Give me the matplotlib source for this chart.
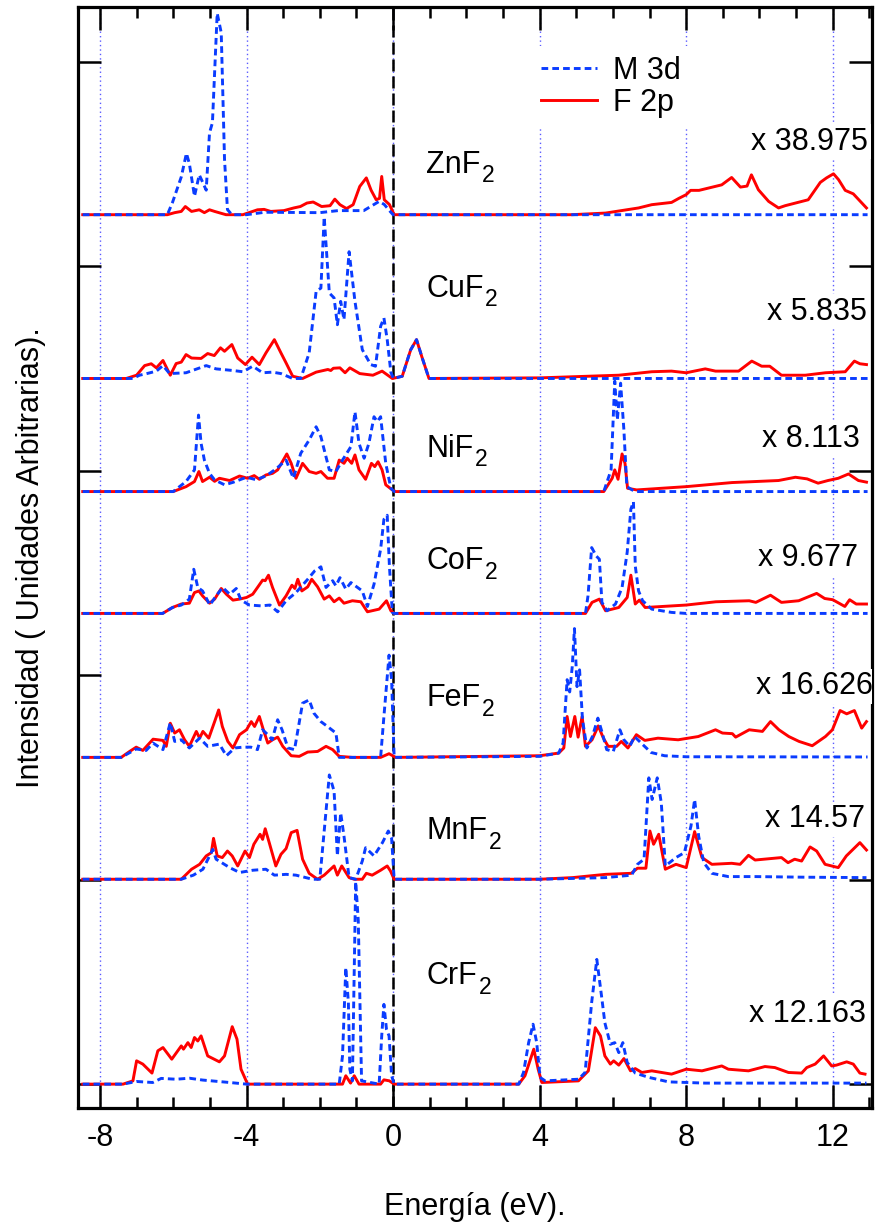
import numpy as np
import matplotlib.pyplot as plt

plt.rcParams['font.family'] = ['Liberation Sans', 'DejaVu Sans']
plt.rcParams['axes.unicode_minus'] = False


# ----------- #
# -- DATOS -- #
# ----------- #

compuestos = ['ZnF2', 'CuF2', 'NiF2', 'CoF2', 'FeF2', 'MnF2', 'CrF2']
factores = ['x 38.975', 'x 5.835', 'x 8.113', 'x 9.677', 'x 16.626', 'x 14.57', 'x 12.163']

# (energia eV, intensidad) por compuesto, M 3d y F 2p
zn_3d = [(-8.47, 0), (-6.16, 0), (-6.02, 0.06), (-5.78, 0.185), (-5.64, 0.30), (-5.56, 0.25),
         (-5.42, 0.09), (-5.29, 0.195), (-5.2, 0.16), (-5.1, 0.12), (-5.01, 0.40), (-4.93, 0.45),
         (-4.8, 0.985), (-4.69, 0.89), (-4.6, 0.27), (-4.52, 0.025), (-4.4, 0), (-4.0, 0),
         (-3.5, 0.012), (-2.0, 0.01), (-1.5, 0.02), (-0.8, 0.02), (-0.38, 0.065), (-0.24, 0.05),
         (-0.1, 0.02), (0.0, 0), (12.95, 0)]
zn_2p = [(-8.47, 0), (-6.16, 0), (-5.96, 0.01), (-5.78, 0.016), (-5.67, 0.04), (-5.5, 0.016),
         (-5.29, 0.024), (-5.15, 0.01), (-5.01, 0.024), (-4.87, 0.016), (-4.56, 0), (-4.1, 0),
         (-3.7, 0.024), (-3.52, 0.026), (-3.34, 0.016), (-2.98, 0.02), (-2.71, 0.033), (-2.53, 0.04),
         (-2.35, 0.057), (-2.18, 0.062), (-1.95, 0.04), (-1.72, 0.044), (-1.59, 0.076), (-1.45, 0.049),
         (-1.27, 0.03), (-1.09, 0.049), (-0.91, 0.138), (-0.73, 0.18), (-0.6, 0.12), (-0.46, 0.073),
         (-0.37, 0.08), (-0.31, 0.187), (-0.24, 0.073), (-0.1, 0.05), (0.03, 0), (4.88, 0),
         (5.8, 0.008), (6.7, 0.033), (7.06, 0.049), (7.6, 0.06), (7.8, 0.08), (8.0, 0.098),
         (8.12, 0.119), (8.35, 0.119), (8.97, 0.146), (9.24, 0.182), (9.48, 0.135), (9.66, 0.14),
         (9.78, 0.195), (9.97, 0.122), (10.25, 0.065), (10.52, 0.033), (10.7, 0.044), (11.33, 0.073),
         (11.66, 0.158), (11.83, 0.18), (12.02, 0.2), (12.16, 0.171), (12.34, 0.119), (12.56, 0.102),
         (12.92, 0.033)]

cu_3d = [(-8.47, 0), (-7.1, 0), (-6.92, 0.016), (-6.74, 0.023), (-6.46, 0.036), (-6.28, 0.063),
         (-6.1, 0.024), (-5.65, 0.028), (-5.1, 0.063), (-4.83, 0.047), (-4.37, 0.039), (-4.1, 0.033),
         (-3.83, 0.06), (-3.56, 0.028), (-3.29, 0.031), (-3.06, 0.024), (-2.74, 0), (-2.52, 0),
         (-2.29, 0.125), (-2.1, 0.426), (-1.97, 0.442), (-1.88, 0.79), (-1.74, 0.418), (-1.61, 0.394),
         (-1.52, 0.263), (-1.43, 0.377), (-1.34, 0.288), (-1.2, 0.62), (-1.04, 0.377), (-0.84, 0.141),
         (-0.61, 0.068), (-0.48, 0.06), (-0.34, 0.255), (-0.25, 0.296), (-0.16, 0.19), (-0.06, 0.03),
         (0.01, 0), (0.25, 0.011), (0.48, 0.14), (0.64, 0.19), (0.78, 0.109), (0.98, 0), (12.95, 0)]
cu_2p = [(-8.47, 0), (-7.28, 0), (-7.0, 0.016), (-6.78, 0.063), (-6.6, 0.072), (-6.46, 0.052),
         (-6.28, 0.088), (-6.08, 0.016), (-5.92, 0.073), (-5.78, 0.08), (-5.65, 0.117), (-5.5, 0.1),
         (-5.24, 0.098), (-5.06, 0.122), (-4.88, 0.112), (-4.71, 0.15), (-4.6, 0.133), (-4.4, 0.166),
         (-4.24, 0.1), (-4.03, 0.068), (-3.85, 0.104), (-3.65, 0.068), (-3.47, 0.125), (-3.24, 0.19),
         (-3.06, 0.125), (-2.92, 0.076), (-2.74, 0.011), (-2.47, 0), (-2.1, 0.031), (-1.78, 0.044),
         (-1.7, 0.039), (-1.63, 0.05), (-1.45, 0.052), (-1.31, 0.028), (-1.18, 0.052), (-0.91, 0.024),
         (-0.55, 0.016), (-0.3, 0.036), (-0.02, 0), (0.25, 0.011), (0.48, 0.14), (0.64, 0.19),
         (0.78, 0.109), (0.98, 0), (4.0, 0.003), (6.16, 0.016), (7.06, 0.033), (7.6, 0.036),
         (8.0, 0.028), (8.52, 0.047), (8.8, 0.036), (9.43, 0.036), (9.79, 0.085), (10.06, 0.06),
         (10.28, 0.06), (10.6, 0.016), (11.25, 0.016), (11.8, 0.028), (12.34, 0.033), (12.59, 0.085),
         (12.74, 0.072), (12.92, 0.068)]

ni_3d = [(-8.47, 0), (-6.0, 0), (-5.65, 0.049), (-5.42, 0.106), (-5.31, 0.374), (-5.24, 0.236),
         (-5.15, 0.154), (-5.01, 0.089), (-4.87, 0.057), (-4.6, 0.033), (-4.37, 0.045), (-4.0, 0.07),
         (-3.74, 0.058), (-3.47, 0.076), (-3.2, 0.11), (-2.92, 0.154), (-2.72, 0.065), (-2.52, 0.187),
         (-2.29, 0.252), (-2.1, 0.317), (-1.97, 0.268), (-1.74, 0.106), (-1.56, 0.098), (-1.38, 0.154),
         (-1.15, 0.22), (-1.04, 0.39), (-0.93, 0.236), (-0.79, 0.163), (-0.66, 0.236), (-0.52, 0.366),
         (-0.43, 0.342), (-0.34, 0.366), (-0.2, 0.138), (-0.06, 0.016), (0.03, 0), (5.75, 0),
         (5.95, 0.106), (6.05, 0.54), (6.12, 0.35), (6.21, 0.53), (6.3, 0.3), (6.38, 0.024),
         (6.6, 0), (12.95, 0)]
ni_2p = [(-8.47, 0), (-6.0, 0), (-5.65, 0.024), (-5.42, 0.049), (-5.3, 0.098), (-5.2, 0.049),
         (-5.01, 0.07), (-4.87, 0.05), (-4.74, 0.065), (-4.46, 0.054), (-4.19, 0.076), (-3.97, 0.065),
         (-3.79, 0.078), (-3.65, 0.06), (-3.47, 0.081), (-3.29, 0.089), (-3.15, 0.106), (-2.9, 0.184),
         (-2.78, 0.138), (-2.65, 0.065), (-2.47, 0.138), (-2.29, 0.098), (-2.1, 0.089), (-1.97, 0.098),
         (-1.79, 0.065), (-1.61, 0.065), (-1.47, 0.154), (-1.34, 0.138), (-1.25, 0.163), (-1.13, 0.138),
         (-1.04, 0.179), (-0.93, 0.106), (-0.75, 0.06), (-0.59, 0.138), (-0.5, 0.122), (-0.41, 0.146),
         (-0.3, 0.106), (-0.2, 0.033), (-0.02, 0.008), (0.07, 0), (5.75, 0), (5.98, 0.065),
         (6.05, 0.106), (6.14, 0.06), (6.25, 0.184), (6.33, 0.138), (6.4, 0.016), (6.65, 0.008),
         (8.0, 0.024), (9.25, 0.044), (10.52, 0.054), (10.98, 0.07), (11.3, 0.062), (11.6, 0.041),
         (11.87, 0.054), (12.15, 0.065), (12.43, 0.086), (12.7, 0.054), (12.92, 0.046)]

co_3d = [(-8.47, 0), (-6.29, 0), (-6.02, 0.029), (-5.78, 0.041), (-5.56, 0.07), (-5.44, 0.216),
         (-5.33, 0.127), (-5.2, 0.11), (-5.0, 0.041), (-4.83, 0.086), (-4.65, 0.127), (-4.46, 0.094),
         (-4.28, 0.122), (-4.15, 0.065), (-3.92, 0.041), (-3.6, 0.037), (-3.36, 0.041), (-3.15, 0.008),
         (-2.92, 0.062), (-2.65, 0.102), (-2.33, 0.167), (-2.14, 0.208), (-1.97, 0.228), (-1.83, 0.127),
         (-1.65, 0.16), (-1.56, 0.135), (-1.45, 0.175), (-1.29, 0.119), (-1.15, 0.151), (-0.97, 0.127),
         (-0.84, 0.11), (-0.7, 0.034), (-0.52, 0.143), (-0.34, 0.314), (-0.25, 0.46), (-0.16, 0.48),
         (-0.1, 0.232), (-0.02, 0.005), (0.03, 0), (5.25, 0), (5.32, 0.086), (5.42, 0.322),
         (5.55, 0.28), (5.63, 0.265), (5.7, 0.054), (5.84, 0.013), (6.07, 0.046), (6.25, 0.127),
         (6.39, 0.3), (6.49, 0.51), (6.56, 0.546), (6.61, 0.232), (6.7, 0.11), (6.81, 0.062),
         (7.06, 0.021), (7.6, 0.005), (8.0, 0), (12.95, 0)]
co_2p = [(-8.47, 0), (-6.29, 0), (-6.02, 0.029), (-5.78, 0.046), (-5.56, 0.05), (-5.42, 0.102),
         (-5.3, 0.11), (-5.2, 0.086), (-5.01, 0.05), (-4.87, 0.07), (-4.69, 0.122), (-4.55, 0.094),
         (-4.37, 0.065), (-4.19, 0.07), (-4.0, 0.078), (-3.83, 0.094), (-3.7, 0.127), (-3.56, 0.163),
         (-3.49, 0.16), (-3.4, 0.187), (-3.29, 0.127), (-3.1, 0.041), (-2.92, 0.086), (-2.76, 0.138),
         (-2.68, 0.122), (-2.6, 0.167), (-2.49, 0.11), (-2.33, 0.13), (-2.22, 0.167), (-2.06, 0.13),
         (-1.88, 0.07), (-1.74, 0.086), (-1.61, 0.057), (-1.47, 0.075), (-1.34, 0.05), (-1.11, 0.062),
         (-0.88, 0.057), (-0.7, 0.008), (-0.38, 0.021), (-0.18, 0.062), (-0.06, 0.013), (0.03, 0),
         (5.25, 0), (5.43, 0.054), (5.63, 0.07), (5.8, 0.013), (6.16, 0.029), (6.39, 0.078),
         (6.49, 0.187), (6.61, 0.046), (6.72, 0.065), (6.88, 0.029), (8.0, 0.041), (8.81, 0.057),
         (9.72, 0.062), (9.9, 0.054), (10.3, 0.089), (10.6, 0.054), (11.07, 0.062), (11.56, 0.098),
         (11.78, 0.073), (12.0, 0.067), (12.33, 0.034), (12.46, 0.067), (12.64, 0.046), (12.92, 0.046)]

fe_3d = [(-8.47, 0), (-7.42, 0), (-7.01, 0.041), (-6.74, 0.034), (-6.55, 0.07), (-6.28, 0.038),
         (-6.08, 0.17), (-5.96, 0.078), (-5.78, 0.086), (-5.56, 0.046), (-5.28, 0.094), (-5.06, 0.054),
         (-4.74, 0.065), (-4.55, 0.008), (-4.32, 0.046), (-4.1, 0.05), (-3.88, 0.05), (-3.7, 0.038),
         (-3.56, 0.135), (-3.42, 0.111), (-3.3, 0.086), (-3.15, 0.184), (-3.03, 0.135), (-2.87, 0.046),
         (-2.69, 0.038), (-2.47, 0.265), (-2.29, 0.281), (-2.16, 0.216), (-1.97, 0.175), (-1.79, 0.151),
         (-1.56, 0.119), (-1.47, 0), (-0.34, 0), (-0.25, 0.2), (-0.11, 0.5), (-0.04, 0.38), (0.03, 0),
         (4.0, 0.005), (4.52, 0.021), (4.64, 0.07), (4.75, 0.38), (4.82, 0.32), (4.89, 0.444),
         (4.95, 0.63), (5.02, 0.346), (5.09, 0.428), (5.17, 0.184), (5.29, 0.046), (5.44, 0.102),
         (5.59, 0.192), (5.71, 0.119), (5.83, 0.038), (6.01, 0.029), (6.19, 0.135), (6.3, 0.086),
         (6.46, 0.054), (6.59, 0.102), (6.77, 0.07), (7.04, 0.024), (7.41, 0.008), (8.0, 0.003),
         (12.95, 0.002)]
fe_2p = [(-8.47, 0), (-7.42, 0), (-7.19, 0.029), (-7.01, 0.05), (-6.83, 0.034), (-6.55, 0.089),
         (-6.28, 0.083), (-6.19, 0.054), (-6.08, 0.167), (-5.96, 0.119), (-5.83, 0.135), (-5.69, 0.086),
         (-5.56, 0.054), (-5.37, 0.127), (-5.28, 0.094), (-5.19, 0.127), (-5.03, 0.094), (-4.87, 0.175),
         (-4.76, 0.232), (-4.66, 0.151), (-4.51, 0.078), (-4.37, 0.046), (-4.19, 0.111), (-4.0, 0.135),
         (-3.87, 0.175), (-3.78, 0.151), (-3.65, 0.2), (-3.54, 0.135), (-3.42, 0.07), (-3.29, 0.086),
         (-3.15, 0.099), (-3.01, 0.054), (-2.78, 0.008), (-2.56, 0.005), (-2.33, 0.026), (-2.06, 0.029),
         (-1.83, 0.054), (-1.65, 0.038), (-1.47, 0.005), (-1.11, 0), (-0.34, 0), (-0.11, 0.018),
         (0.07, 0), (4.0, 0.008), (4.52, 0.021), (4.66, 0.046), (4.75, 0.2), (4.84, 0.102),
         (4.96, 0.2), (5.05, 0.099), (5.16, 0.2), (5.25, 0.054), (5.43, 0.086), (5.6, 0.154),
         (5.74, 0.094), (5.87, 0.054), (6.1, 0.054), (6.23, 0.078), (6.41, 0.046), (6.64, 0.111),
         (6.87, 0.083), (7.23, 0.094), (7.78, 0.086), (8.33, 0.102), (8.8, 0.135), (8.99, 0.119),
         (9.26, 0.116), (9.35, 0.099), (9.72, 0.135), (10.08, 0.127), (10.3, 0.175), (10.53, 0.135),
         (10.8, 0.102), (11.08, 0.078), (11.44, 0.057), (11.8, 0.102), (11.99, 0.135), (12.2, 0.229),
         (12.38, 0.213), (12.59, 0.229), (12.79, 0.143), (12.92, 0.175)]

mn_3d = [(-8.47, 0), (-5.78, 0), (-5.45, 0.02), (-5.19, 0.049), (-4.92, 0.146), (-4.83, 0.098),
         (-4.46, 0.057), (-4.19, 0.033), (-3.83, 0.044), (-3.47, 0.049), (-3.24, 0.02), (-2.92, 0.024),
         (-2.65, 0.02), (-2.2, 0), (-2.0, 0), (-1.88, 0.236), (-1.74, 0.51), (-1.61, 0.431),
         (-1.52, 0.114), (-1.43, 0.325), (-1.34, 0.211), (-1.2, 0.008), (-1.02, 0), (-0.84, 0.089),
         (-0.75, 0.154), (-0.52, 0.114), (-0.29, 0.179), (-0.13, 0.236), (-0.04, 0.2), (0.03, 0),
         (4.0, 0), (5.8, 0.008), (6.51, 0.02), (6.67, 0.073), (6.85, 0.098), (6.98, 0.496),
         (7.07, 0.39), (7.21, 0.496), (7.32, 0.374), (7.43, 0.065), (7.72, 0.106), (7.95, 0.13),
         (8.13, 0.26), (8.23, 0.39), (8.34, 0.211), (8.48, 0.081), (8.7, 0.029), (9.15, 0.013),
         (9.88, 0.013), (11.24, 0.01), (12.92, 0.008)]
mn_2p = [(-8.47, 0), (-5.78, 0), (-5.5, 0.049), (-5.28, 0.073), (-5.1, 0.114), (-4.96, 0.13),
         (-4.9, 0.2), (-4.8, 0.114), (-4.66, 0.106), (-4.52, 0.138), (-4.39, 0.114), (-4.24, 0.065),
         (-4.04, 0.138), (-3.92, 0.106), (-3.8, 0.171), (-3.63, 0.22), (-3.56, 0.195), (-3.49, 0.247),
         (-3.38, 0.179), (-3.2, 0.065), (-3.06, 0.122), (-2.92, 0.15), (-2.78, 0.228), (-2.62, 0.239),
         (-2.47, 0.098), (-2.29, 0.029), (-2.06, 0), (-1.88, 0.02), (-1.61, 0.065), (-1.52, 0.02),
         (-1.4, 0.065), (-1.2, 0.008), (-1.06, 0), (-0.84, 0), (-0.73, 0.029), (-0.57, 0.02),
         (-0.34, 0.044), (-0.16, 0.065), (-0.07, 0.04), (0.03, 0), (4.0, 0), (4.9, 0.008),
         (5.8, 0.024), (6.5, 0.029), (6.67, 0.054), (6.9, 0.054), (7.01, 0.236), (7.11, 0.171),
         (7.25, 0.22), (7.43, 0.049), (7.72, 0.073), (8.0, 0.057), (8.23, 0.233), (8.43, 0.106),
         (8.7, 0.073), (9.24, 0.078), (9.47, 0.073), (9.7, 0.117), (9.88, 0.094), (10.6, 0.106),
         (10.78, 0.081), (10.96, 0.098), (11.15, 0.089), (11.38, 0.158), (11.56, 0.138), (11.79, 0.073),
         (12.15, 0.057), (12.37, 0.114), (12.74, 0.179), (12.92, 0.143)]

cr_3d = [(-8.47, 0), (-7.37, 0), (-7.0, 0.013), (-6.56, 0.008), (-6.33, 0.028), (-5.92, 0.024),
         (-5.56, 0.029), (-5.2, 0.02), (-4.46, 0.008), (-4.0, 0), (-1.47, 0), (-1.38, 0.138),
         (-1.29, 0.57), (-1.22, 0.4), (-1.18, 0.073), (-1.11, 0.016), (-1.02, 0.99), (-0.95, 0.8),
         (-0.86, 0.016), (-0.38, 0), (-0.31, 0.236), (-0.25, 0.39), (-0.18, 0.268), (-0.11, 0.236),
         (-0.04, 0.041), (0.03, 0), (3.43, 0), (3.56, 0.057), (3.7, 0.203), (3.82, 0.293),
         (3.92, 0.203), (4.01, 0.033), (4.15, 0.016), (5.06, 0.024), (5.24, 0.057), (5.42, 0.4),
         (5.56, 0.61), (5.69, 0.43), (5.78, 0.3), (5.93, 0.195), (6.05, 0.203), (6.16, 0.154),
         (6.27, 0.203), (6.39, 0.106), (6.61, 0.054), (6.98, 0.033), (7.52, 0.011), (8.52, 0.005),
         (12.92, 0.005)]
cr_2p = [(-8.47, 0), (-7.37, 0), (-7.1, 0.016), (-7.0, 0.114), (-6.83, 0.098), (-6.58, 0.054),
         (-6.42, 0.163), (-6.28, 0.179), (-6.04, 0.122), (-5.78, 0.187), (-5.72, 0.171), (-5.6, 0.203),
         (-5.51, 0.179), (-5.42, 0.228), (-5.33, 0.211), (-5.24, 0.236), (-5.06, 0.138), (-4.74, 0.109),
         (-4.6, 0.138), (-4.39, 0.281), (-4.26, 0.22), (-4.15, 0.073), (-3.97, 0), (-1.38, 0),
         (-1.29, 0.041), (-1.16, 0.005), (-1.06, 0.041), (-0.93, 0), (-0.34, 0), (-0.25, 0.021),
         (-0.1, 0.016), (0.03, 0), (3.43, 0), (3.6, 0.041), (3.84, 0.171), (3.96, 0.073),
         (4.06, 0.008), (5.06, 0.016), (5.33, 0.065), (5.52, 0.276), (5.66, 0.236), (5.78, 0.138),
         (5.93, 0.098), (6.02, 0.114), (6.16, 0.093), (6.3, 0.125), (6.48, 0.065), (6.61, 0.076),
         (6.79, 0.057), (7.06, 0.065), (7.6, 0.049), (8.0, 0.073), (8.43, 0.065), (8.97, 0.089),
         (9.15, 0.073), (9.7, 0.065), (10.15, 0.086), (10.42, 0.081), (10.79, 0.057), (11.15, 0.054),
         (11.29, 0.081), (11.52, 0.098), (11.75, 0.138), (11.97, 0.089), (12.1, 0.093), (12.38, 0.109),
         (12.56, 0.098), (12.74, 0.054), (12.88, 0.049)]

pdos_3d = [zn_3d, cu_3d, ni_3d, co_3d, fe_3d, mn_3d, cr_3d]
pdos_2p = [zn_2p, cu_2p, ni_2p, co_2p, fe_2p, mn_2p, cr_2p]


# ------------- #
# -- LAYOUT  -- #
# ------------- #

desplaz = [4.252, 3.451, 2.898, 2.302, 1.598, 1.002, 0.0]
y_nombre = [4.457, 3.851, 3.069, 2.517, 1.848, 1.197, 0.489]
y_factor = [4.570, 3.739, 3.118, 2.532, 1.906, 1.256, 0.303]
x_factor = [12.97, 12.92, 12.75, 12.70, 13.10, 12.89, 12.92]

AZUL = '#0a3cff'
ROJO = '#ff0000'
FS = 22

fig = plt.figure(figsize=(8.76, 12.26), dpi=100)
ax = fig.add_axes([0.0890, 0.0962, 0.9064, 0.8983])

for xv in [-8, -4, 0, 4, 8, 12]:
    ax.axvline(xv, color='#5b5bff', lw=1.0, ls=(0, (1, 2.2)), zorder=1)
ax.axvline(0, color='k', lw=1.8, ls=(0, (4.8, 2.0)), zorder=1.5)

for k in range(len(compuestos)):
    e2p, i2p = np.array(pdos_2p[k]).T
    e3d, i3d = np.array(pdos_3d[k]).T
    l2p, = ax.plot(e2p, i2p + desplaz[k], color=ROJO, lw=2.1, zorder=3)
    l3d, = ax.plot(e3d, i3d + desplaz[k], color=AZUL, lw=2.1,
                   ls=(0, (2.3, 1.4)), zorder=4)

    # formula con subindice: "ZnF" + "2" mas pequeno y bajado
    nombre = compuestos[k]
    t = ax.text(0.9, y_nombre[k], nombre[:-1], fontsize=FS, ha='left', va='baseline', zorder=5)
    ax.annotate(nombre[-1], xy=(1, 0), xycoords=t, xytext=(1.2, -1.8),
                textcoords='offset points', fontsize=16.5, ha='left', va='baseline', zorder=5)

    ax.text(x_factor[k], y_factor[k], factores[k], fontsize=FS, ha='right', va='baseline',
            bbox=dict(fc='white', ec='none', pad=2), clip_on=True, zorder=5)

ax.legend([l3d, l2p], ['M 3d', 'F 2p'], loc='upper left', bbox_to_anchor=(0.571, 0.964),
          fontsize=FS, frameon=True, fancybox=False, edgecolor='none', facecolor='white',
          framealpha=1, handlelength=1.86, handletextpad=0.5, labelspacing=0.08,
          borderpad=0.3, borderaxespad=0)

ax.set_xlim(-8.6, 13.07)
ax.set_ylim(-0.117, 5.269)
ax.set_xticks([-8, -4, 0, 4, 8, 12])
ax.set_xticks([-8, -7, -6, -5, -4, -3, -2, -1, 0, 1, 2, 3, 4, 5, 6, 7, 8, 9, 10, 11, 12, 13],
              minor=True)
ax.set_yticks([0, 1, 2, 3, 4, 5])

ax.tick_params(axis='y', which='major', direction='in', length=16.5, width=1.8,
               left=True, right=True, labelleft=False)
ax.tick_params(axis='x', which='major', direction='in', length=16.5, width=1.8,
               top=True, bottom=True, labelsize=FS, pad=11)
ax.tick_params(axis='x', which='minor', direction='in', length=8, width=1.8,
               top=True, bottom=True)
for s in ax.spines.values():
    s.set_linewidth(2.3)

ax.set_xlabel('Energía (eV).', fontsize=FS, labelpad=28)
ax.set_ylabel('Intensidad ( Unidades Arbitrarias).', fontsize=FS, labelpad=23)

fig.savefig('out.png', dpi=100)
